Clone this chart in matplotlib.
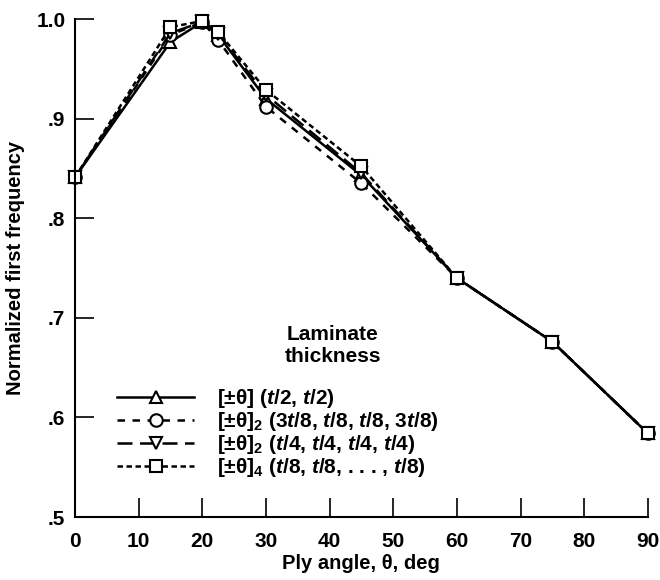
import numpy as np
import matplotlib.pyplot as plt

plt.rcParams['font.family'] = ['Liberation Sans', 'DejaVu Sans']
plt.rcParams['font.weight'] = 'bold'
plt.rcParams['axes.labelweight'] = 'bold'
plt.rcParams['mathtext.fontset'] = 'custom'
plt.rcParams['mathtext.rm'] = 'Liberation Sans:bold'
plt.rcParams['mathtext.it'] = 'Liberation Sans:italic:bold'
plt.rcParams['mathtext.bf'] = 'Liberation Sans:bold'

# ply angles (deg)
angle = [0, 15, 20, 22.5, 30, 45, 60, 75, 90]

# normalized first frequency for each laminate
freq_tri = [0.841, 0.977, 0.997, 0.984, 0.920, 0.843, 0.740, 0.676, 0.584]
freq_circ = [0.841, 0.984, 0.997, 0.979, 0.912, 0.835, 0.740, 0.676, 0.584]
freq_itri = [0.841, 0.986, 0.997, 0.985, 0.924, 0.845, 0.740, 0.676, 0.584]
freq_sq = [0.841, 0.992, 0.998, 0.987, 0.929, 0.852, 0.740, 0.676, 0.584]

labels = [
    r'[±θ] ($t$/2, $t$/2)',
    r'[±θ]$_2$ (3$t$/8, $t$/8, $t$/8, 3$t$/8)',
    r'[±θ]$_2$ ($t$/4, $t$/4, $t$/4, $t$/4)',
    r'[±θ]$_4$ ($t$/8, $t$/8, . . . , $t$/8)',
]

fig = plt.figure(figsize=(6.6, 5.8), dpi=100)
ax = fig.add_axes([0.1136, 0.1086, 0.868, 0.8585])

styles = [
    (freq_tri, '^', '-'),
    (freq_circ, 'o', (0, (3, 3))),
    (freq_itri, 'v', (0, (6, 3))),
    (freq_sq, 's', (0, (2.2, 1.4))),
]
for (vals, mk, ls), lab in zip(styles, labels):
    ax.plot(angle, vals, color='black', linestyle=ls, linewidth=1.8,
            marker=mk, markersize=9, markerfacecolor='white',
            markeredgecolor='black', markeredgewidth=1.5,
            label=lab, clip_on=False)

ax.set_xlim(0, 90)
ax.set_ylim(0.5, 1.0)
ax.set_xticks(np.arange(0, 91, 10))
ax.set_yticks([0.5, 0.6, 0.7, 0.8, 0.9, 1.0])
ax.set_yticklabels(['.5', '.6', '.7', '.8', '.9', '1.0'])
ax.tick_params(direction='in', length=14, width=1.2, labelsize=15)
ax.tick_params(axis='x', pad=11)
ax.tick_params(axis='y', pad=7)
for s in ['top', 'right']:
    ax.spines[s].set_visible(False)
for s in ['left', 'bottom']:
    ax.spines[s].set_linewidth(1.5)

ax.set_xlabel('Ply angle, θ, deg', fontsize=14.5, labelpad=2)
ax.set_ylabel('Normalized first frequency', fontsize=14.5, labelpad=8)

leg = ax.legend(loc='upper left', bbox_to_anchor=(117 / 660, 1 - 387 / 580),
                bbox_transform=fig.transFigure, frameon=False, fontsize=15,
                handlelength=3.7, handletextpad=1.1, labelspacing=0.0,
                borderpad=0, borderaxespad=0)
fig.text(333 / 660, 1 - 345 / 580, 'Laminate\nthickness', ha='center',
         va='center', fontsize=15, linespacing=1.2)

fig.savefig('out.png', dpi=100)
